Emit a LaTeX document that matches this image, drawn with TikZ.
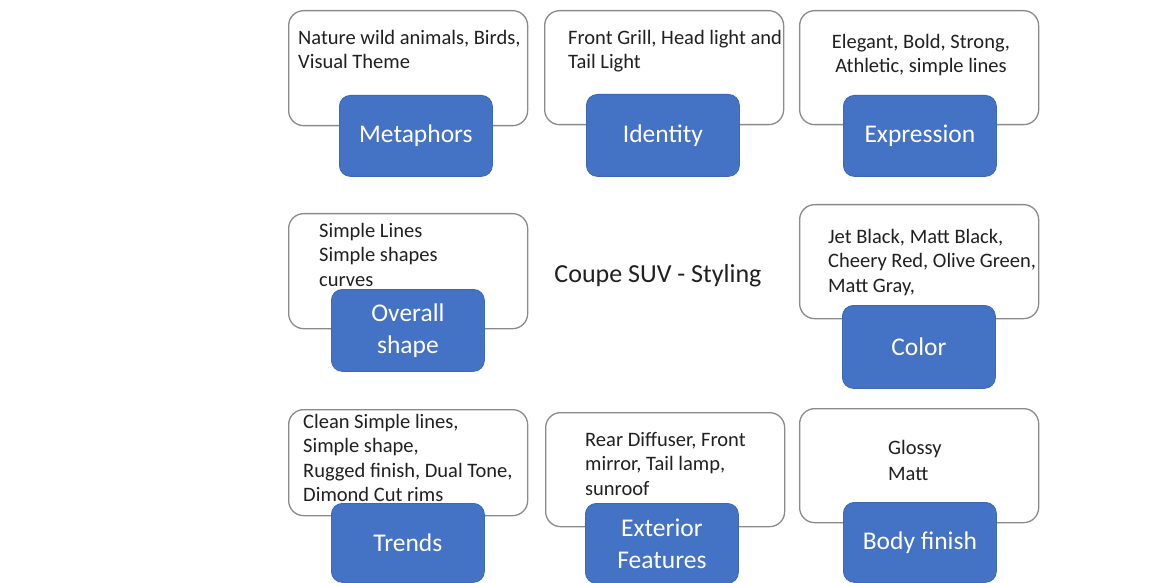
\documentclass[tikz,border=0pt]{standalone}
\usepackage{fontspec}
\setmainfont{Carlito}
\usetikzlibrary{positioning}

\definecolor{keyblue}{HTML}{4472C4}
\definecolor{keyedge}{HTML}{3D68B8}
\definecolor{framegray}{HTML}{8A8A8A}
\definecolor{inkgray}{HTML}{202020}

\begin{document}
\begin{tikzpicture}[x=1pt, y=-1pt,
    topicframe/.style={draw=framegray, line width=1.3pt, rounded corners=15pt, fill=white, inner sep=0pt, minimum width=239pt, anchor=north west},
    keybox/.style={draw=keyedge, line width=0.8pt, fill=keyblue, rounded corners=11pt, inner sep=0pt, minimum width=153pt, anchor=north west, text=white, align=center, font=\fontsize{25.5}{32}\selectfont},
    notes/.style={anchor=north west, inner sep=0pt, align=left, text=inkgray, font=\fontsize{20.5}{24.5}\selectfont}]

  \useasboundingbox (0,0) rectangle (1171,583);

  % Top row
  \node[topicframe, minimum height=115pt] (metaFrame) at (288,10) {};
  \node[notes] (metaNotes) at (298,30) {Nature wild animals, Birds,\\Visual Theme};
  \node[keybox, minimum height=81pt] (metaKey) at (339,95) {Metaphors};

  \node[topicframe, minimum height=114pt] (identFrame) at (544,10) {};
  \node[notes] (identNotes) at (568,30) {Front Grill, Head light and\\Tail Light};
  \node[keybox, minimum height=82pt] (identKey) at (586,94) {Identity};

  \node[topicframe, minimum height=114pt] (exprFrame) at (799,10) {};
  \node[notes, anchor=north, align=center] (exprNotes) at (921,34) {Elegant, Bold, Strong,\\Athletic, simple lines};
  \node[keybox, minimum height=81pt] (exprKey) at (843,95) {Expression};

  % Middle row
  \node[topicframe, minimum height=115pt] (shapeFrame) at (288,213) {};
  \node[notes] (shapeNotes) at (319,223) {Simple Lines\\Simple shapes\\curves};
  \node[keybox, minimum height=82pt] (shapeKey) at (331,289) {Overall\\shape};

  \node[font=\fontsize{26}{30}\selectfont, text=inkgray, anchor=base] (title) at (658,282) {Coupe SUV - Styling};

  \node[topicframe, minimum height=114pt] (colorFrame) at (799,204) {};
  \node[notes] (colorNotes) at (828,229) {Jet Black, Matt Black,\\Cheery Red, Olive Green,\\Matt Gray,};
  \node[keybox, minimum height=83pt] (colorKey) at (842,305) {Color};

  % Bottom row
  \node[topicframe, minimum height=106pt] (trendFrame) at (288,409) {};
  \node[notes, font=\fontsize{20.5}{24.3}\selectfont] (trendNotes) at (303,414) {Clean Simple lines,\\Simple shape,\\Rugged finish, Dual Tone,\\Dimond Cut rims};
  \node[keybox, minimum height=79pt] (trendKey) at (331,503) {Trends};

  \node[topicframe, minimum height=114pt] (extFrame) at (545,412) {};
  \node[notes] (extNotes) at (585,432) {Rear Diffuser, Front\\mirror, Tail lamp,\\sunroof};
  \node[keybox, minimum height=80pt] (extKey) at (585,503) {Exterior\\Features};

  \node[topicframe, minimum height=114pt] (finishFrame) at (799,408) {};
  \node[notes, font=\fontsize{20.5}{26.5}\selectfont] (finishNotes) at (888,440) {Glossy\\Matt};
  \node[keybox, minimum height=80pt] (finishKey) at (843,502) {Body finish};
\end{tikzpicture}
\end{document}
